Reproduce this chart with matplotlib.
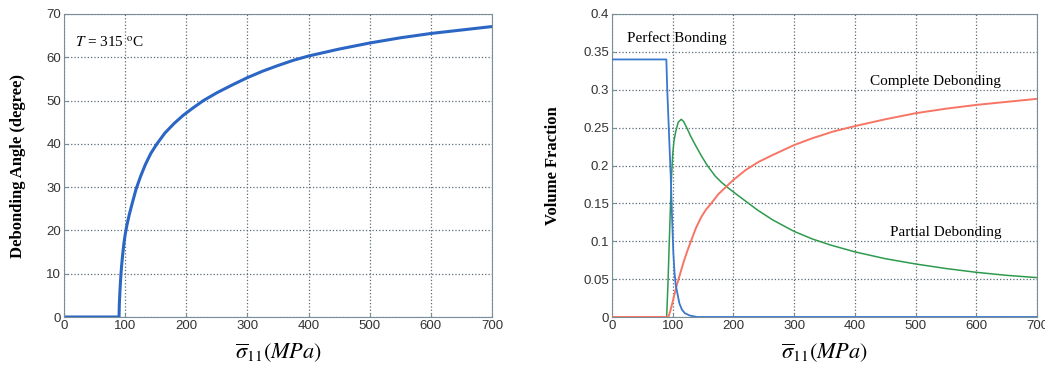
import numpy as np
import matplotlib
matplotlib.use('Agg')
import matplotlib.pyplot as plt
from matplotlib.ticker import FuncFormatter

plt.rcParams['mathtext.fontset'] = 'stix'

# left panel: debonding angle vs stress
stress_angle = [0, 90, 90.5, 91.5, 92.5, 94, 96, 98, 100, 103, 107, 112, 118, 125, 133, 142,
                152, 165, 180, 195, 210, 228, 250, 275, 300, 325, 350, 375, 400, 450, 500,
                550, 600, 650, 700]
angle = [0, 0, 3, 6, 8.5, 11.5, 14.5, 17, 19, 21.3, 23.8, 26.5, 29.6, 32.4, 35.2, 37.8,
         40, 42.5, 44.7, 46.6, 48.2, 50, 51.8, 53.6, 55.3, 56.8, 58.1, 59.3, 60.3, 61.9, 63.3,
         64.5, 65.5, 66.3, 67.1]

# right panel: volume fractions
stress_perfect = [0, 89.5, 91, 93, 95, 97, 99, 101, 103, 105, 108, 111, 115, 120, 128, 140, 700]
perfect = [0.34, 0.34, 0.30, 0.26, 0.22, 0.18, 0.13, 0.085, 0.058, 0.042, 0.03, 0.018,
           0.01, 0.005, 0.002, 0, 0]

stress_partial = [0, 90, 92, 94, 96, 98, 100, 102, 105, 109, 114, 118, 123, 130, 138, 147,
                  157, 170, 180, 192, 205, 220, 240, 265, 300, 330, 360, 400, 450, 500,
                  550, 600, 650, 700]
partial = [0, 0, 0.04, 0.09, 0.14, 0.185, 0.215, 0.232, 0.245, 0.257, 0.261, 0.258, 0.25,
           0.238, 0.226, 0.213, 0.2, 0.186, 0.178, 0.17, 0.162, 0.153, 0.141, 0.128, 0.113,
           0.103, 0.095, 0.086, 0.077, 0.07, 0.064, 0.059, 0.055, 0.052]

stress_complete = [0, 93, 96, 99, 102, 106, 110, 114, 118.5, 124, 130, 138, 147, 155, 163.5,
                   175, 192, 200, 220, 242, 265, 300, 330, 365, 400, 450, 500, 550, 600,
                   650, 700]
complete = [0, 0, 0.008, 0.017, 0.027, 0.04, 0.051, 0.062, 0.074, 0.087, 0.1, 0.117, 0.132,
            0.142, 0.15, 0.162, 0.175, 0.181, 0.194, 0.205, 0.214, 0.227, 0.236, 0.245, 0.252,
            0.261, 0.269, 0.275, 0.28, 0.284, 0.288]

W, H = 1045, 367
fig = plt.figure(figsize=(W / 100, H / 100), dpi=100)
ax1 = fig.add_axes([64 / W, 1 - 317 / H, 428 / W, 303 / H])
ax2 = fig.add_axes([612 / W, 1 - 317 / H, 425 / W, 303 / H])

spine_col = '#7a8e98'
grid_col = '#5a6a75'
tick_fam = ['Liberation Sans', 'DejaVu Sans']
serif = 'Liberation Serif'
xlab = r'$\overline{\sigma}_{11}(MPa)$'

for ax in (ax1, ax2):
    ax.set_xlim(0, 700)
    ax.set_xticks(range(0, 701, 100))
    ax.grid(True, linestyle=':', color=grid_col, linewidth=0.9)
    for s in ax.spines.values():
        s.set_color(spine_col)
        s.set_linewidth(0.8)
    ax.tick_params(direction='in', length=3, color=spine_col, pad=2,
                   labelsize=9.5, labelcolor='#333333')
    ax.set_xlabel(xlab, fontsize=16, labelpad=7)

ax1.plot(stress_angle, angle, color='#2b66c4', linewidth=2.2)
ax1.set_ylim(0, 70)
ax1.set_yticks(range(0, 71, 10))
ax1.set_ylabel('Debonding Angle (degree)', family=serif, fontweight='bold',
               fontsize=12, labelpad=15)
ax1.text(18, 63.5, r'$T$ = 315 $^{\rm o}$C', family=serif, fontsize=11,
         va='center', ha='left')

ax2.plot(stress_partial, partial, color='#2e9a4e', linewidth=1.1, zorder=2)
ax2.plot(stress_complete, complete, color='#f77565', linewidth=1.4, zorder=3)
ax2.plot(stress_perfect, perfect, color='#3a78d0', linewidth=1.3, zorder=4)
ax2.set_ylim(0, 0.4)
ax2.set_yticks(np.arange(0, 0.401, 0.05))
ax2.yaxis.set_major_formatter(FuncFormatter(lambda v, p: '%g' % round(v, 2)))
ax2.set_ylabel('Volume Fraction', family=serif, fontweight='bold',
               fontsize=12, labelpad=16)
ax2.text(25, 0.368, 'Perfect Bonding', family=serif, fontsize=11,
         va='center', ha='left')
ax2.text(425, 0.3115, 'Complete Debonding', family=serif, fontsize=11,
         va='center', ha='left')
ax2.text(458, 0.112, 'Partial Debonding', family=serif, fontsize=11,
         va='center', ha='left')

for ax in (ax1, ax2):
    for lab in ax.get_xticklabels() + ax.get_yticklabels():
        lab.set_family(tick_fam)

fig.savefig('out.png', dpi=100)
